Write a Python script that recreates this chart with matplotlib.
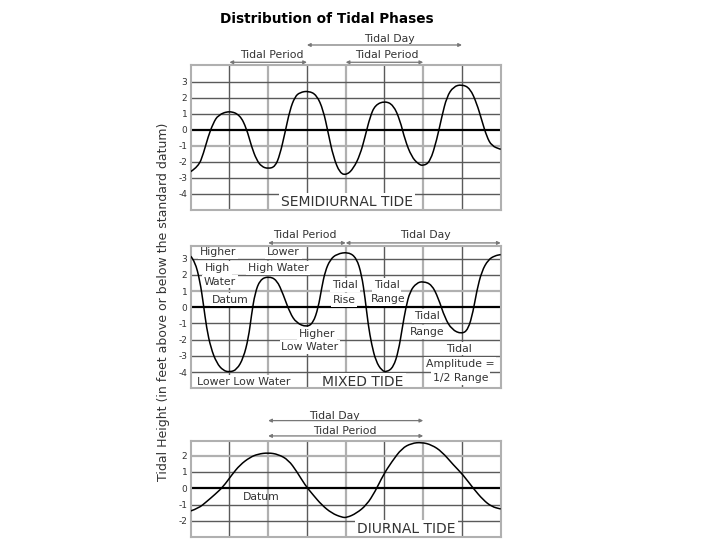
import matplotlib
matplotlib.use("Agg")
import matplotlib.pyplot as plt
from matplotlib.path import Path
from matplotlib.patches import PathPatch

plt.rcParams["axes.unicode_minus"] = False

# heights (feet), x in grid cells
semi_x = [0, 0.2, 0.33, 0.45, 0.58, 0.71, 1.0, 1.27, 1.44, 1.57, 1.70, 1.83,
          2.0, 2.18, 2.30, 2.43, 2.56, 2.69, 2.82, 3.04, 3.25, 3.42, 3.55, 3.68,
          3.85, 4.03, 4.2, 4.37, 4.5, 4.63, 4.76, 5.01, 5.23, 5.4, 5.53, 5.70,
          5.87, 6.0, 6.18, 6.35, 6.48, 6.61, 6.78, 7.0, 7.21, 7.38, 7.51, 7.64,
          7.77, 8.0]
semi_y = [-2.6, -2.29, -1.46, -0.42, 0.42, 0.94, 1.2, 0.94, 0.1, -1.04, -1.87, -2.29,
          -2.42, -2.29, -1.56, -0.21, 1.25, 2.08, 2.35, 2.44, 2.19, 1.25, -0.21, -1.67,
          -2.71, -2.81, -2.4, -1.56, -0.42, 0.83, 1.56, 1.81, 1.56, 0.62, -0.62, -1.67,
          -2.12, -2.25, -1.98, -0.62, 0.83, 2.08, 2.71, 2.85, 2.6, 1.67, 0.62, -0.42,
          -1.0, -1.21]

mixed_x = [0, 0.11, 0.24, 0.33, 0.41, 0.52, 0.67, 0.84, 1.01, 1.19,
           1.36, 1.49, 1.57, 1.66, 1.79, 2.0, 2.22, 2.39, 2.56, 2.73,
           2.99, 3.16, 3.29, 3.38, 3.47, 3.6, 3.77, 4.07, 4.28, 4.41,
           4.5, 4.58, 4.67, 4.78, 4.93, 5.06, 5.23, 5.36, 5.46, 5.55,
           5.66, 5.83, 6.0, 6.22, 6.39, 6.56, 6.74, 6.99, 7.16, 7.29,
           7.38, 7.51, 7.68, 7.85, 8.0]
mixed_y = [3.15, 2.84, 1.6, 0.16, -1.28, -2.51, -3.44, -3.91, -4.0, -3.85,
           -3.13, -1.9, -0.45, 0.88, 1.7, 1.91, 1.7, 0.78, -0.35, -0.97,
           -1.22, -0.97, -0.04, 1.19, 2.22, 2.94, 3.29, 3.41, 3.04, 2.01,
           0.57, -1.07, -2.31, -3.33, -3.91, -4.0, -3.7, -2.72, -1.28, -0.04,
           0.99, 1.5, 1.6, 1.4, 0.57, -0.66, -1.38, -1.65, -1.38, -0.25,
           0.99, 2.22, 2.94, 3.18, 3.25]

diur_x = [0, 0.2, 0.41, 0.63, 0.84, 1.06, 1.27, 1.53, 1.74, 2.0,
          2.26, 2.52, 2.74, 2.95, 3.16, 3.38, 3.64, 3.9, 4.03, 4.28,
          4.54, 4.76, 4.97, 5.19, 5.45, 5.7, 5.96, 6.22, 6.48, 6.78,
          7.03, 7.29, 7.55, 7.77, 8.0]
diur_y = [-1.39, -1.23, -0.82, -0.37, 0.1, 0.82, 1.43, 1.9, 2.1, 2.18,
          2.08, 1.74, 1.02, 0.2, -0.41, -1.02, -1.53, -1.78, -1.8, -1.53,
          -1.02, -0.2, 0.82, 1.63, 2.45, 2.76, 2.82, 2.66, 2.25, 1.43,
          0.82, 0.0, -0.72, -1.13, -1.27]

semi_ticks = [3, 2, 1, 0, -1, -2, -3, -4]
mixed_ticks = [3, 2, 1, 0, -1, -2, -3, -4]
diur_ticks = [2, 1, 0, -1, -2]

TXT = "#333333"
DARK = "#5a5a5a"
LIGHT = "#b0b0b0"
SMALL = 7.8
BIG = 10


def smooth_line(ax, x, y):
    # quadratic bezier path: readings are the control points
    verts = [(x[0], y[0])]
    codes = [Path.MOVETO]
    for i in range(1, len(x) - 1):
        verts.append((x[i], y[i]))
        verts.append(((x[i] + x[i + 1]) / 2, (y[i] + y[i + 1]) / 2))
        codes += [Path.CURVE3, Path.CURVE3]
    verts.append((x[-1], y[-1]))
    codes.append(Path.LINETO)
    ax.add_patch(PathPatch(Path(verts, codes), fill=False, ec="black", lw=1.1, zorder=4))


def draw_panel(ax, x, y, ylim, ticks, light_rows):
    ax.set_xlim(0, 8)
    ax.set_ylim(*ylim)
    for col in range(1, 8):
        if col % 2 == 0:
            ax.axvline(col, color=LIGHT, lw=1.6, zorder=1)
        else:
            ax.axvline(col, color=DARK, lw=1.0, zorder=1)
    for row in ticks:
        if row == 0:
            ax.axhline(0, color="black", lw=1.6, zorder=1.5)
        elif row in light_rows:
            ax.axhline(row, color=LIGHT, lw=1.6, zorder=1)
        else:
            ax.axhline(row, color=DARK, lw=1.0, zorder=1)
    smooth_line(ax, x, y)
    ax.set_xticks([])
    ax.set_yticks(ticks)
    ax.tick_params(axis="y", length=0, pad=2.5, labelsize=6.5, colors=TXT)
    for s in ax.spines.values():
        s.set_color(LIGHT)
        s.set_linewidth(1.5)


def label(ax, x, y, s, size=SMALL, box=True):
    kw = {}
    if box:
        kw["bbox"] = dict(fc="white", ec="none", pad=1.3)
    ax.text(x, y, s, ha="center", va="center", fontsize=size, color=TXT, zorder=2, **kw)


def span(ax, x0, x1, y):
    ax.annotate("", xy=(x1, y), xytext=(x0, y), annotation_clip=False,
                arrowprops=dict(arrowstyle="<|-|>", color="#777777", lw=0.9,
                                mutation_scale=5, shrinkA=0, shrinkB=0))


fig = plt.figure(figsize=(7.2, 5.4), dpi=100)
L, W = 190.7 / 720, 310 / 720

ax1 = fig.add_axes([L, 1 - 210 / 540, W, 145 / 540])
ax2 = fig.add_axes([L, 1 - 388.3 / 540, W, 142.3 / 540])
ax3 = fig.add_axes([L, 1 - 536.7 / 540, W, 96.2 / 540])

draw_panel(ax1, semi_x, semi_y, (-5.0, 4.06), semi_ticks, [-1])
draw_panel(ax2, mixed_x, mixed_y, (-5.0, 3.78), mixed_ticks, [1])
draw_panel(ax3, diur_x, diur_y, (-2.97, 2.93), diur_ticks, [2])

# semidiurnal
label(ax1, 4.03, -4.48, "SEMIDIURNAL TIDE", size=BIG)
span(ax1, 3, 7, 5.31)
label(ax1, 5.14, 5.69, "Tidal Day", box=False)
span(ax1, 1, 3, 4.23)
span(ax1, 4, 6, 4.23)
label(ax1, 2.09, 4.69, "Tidal Period", box=False)
label(ax1, 5.06, 4.69, "Tidal Period", box=False)

# mixed
span(ax2, 2, 4, 3.97)
span(ax2, 4, 8, 3.97)
label(ax2, 2.95, 4.44, "Tidal Period", box=False)
label(ax2, 6.05, 4.44, "Tidal Day", box=False)
label(ax2, 0.70, 3.43, "Higher")
label(ax2, 0.70, 2.44, "High")
label(ax2, 0.76, 1.58, "Water")
label(ax2, 1.03, 0.47, "Datum")
label(ax2, 2.39, 3.41, "Lower")
label(ax2, 2.26, 2.43, "High Water")
label(ax2, 3.98, 1.38, "Tidal")
label(ax2, 3.96, 0.45, "Rise")
label(ax2, 5.06, 1.36, "Tidal")
label(ax2, 5.10, 0.51, "Range")
label(ax2, 6.10, -0.56, "Tidal")
label(ax2, 6.10, -1.54, "Range")
label(ax2, 3.25, -1.65, "Higher")
label(ax2, 3.08, -2.47, "Low Water")
label(ax2, 6.91, -2.55, "Tidal")
label(ax2, 6.95, -3.50, "Amplitude =")
label(ax2, 6.97, -4.36, "1/2 Range")
label(ax2, 1.36, -4.61, "Lower Low Water")
label(ax2, 4.45, -4.59, "MIXED TIDE", size=BIG)

# diurnal
span(ax3, 2, 6, 4.15)
span(ax3, 2, 6, 3.21)
label(ax3, 3.72, 4.45, "Tidal Day", box=False)
label(ax3, 3.98, 3.53, "Tidal Period", box=False)
label(ax3, 1.83, -0.51, "Datum", box=False)
label(ax3, 5.57, -2.5, "DIURNAL TIDE", size=BIG)

fig.text(326.5 / 720, 1 - 19 / 540, "Distribution of Tidal Phases",
         ha="center", va="center", fontsize=9.8, fontweight="bold")
fig.text(163.3 / 720, 1 - 302 / 540,
         "Tidal Height (in feet above or below the standard datum)",
         rotation=90, ha="center", va="center", fontsize=9, color=TXT)

fig.savefig("out.png", dpi=100)
